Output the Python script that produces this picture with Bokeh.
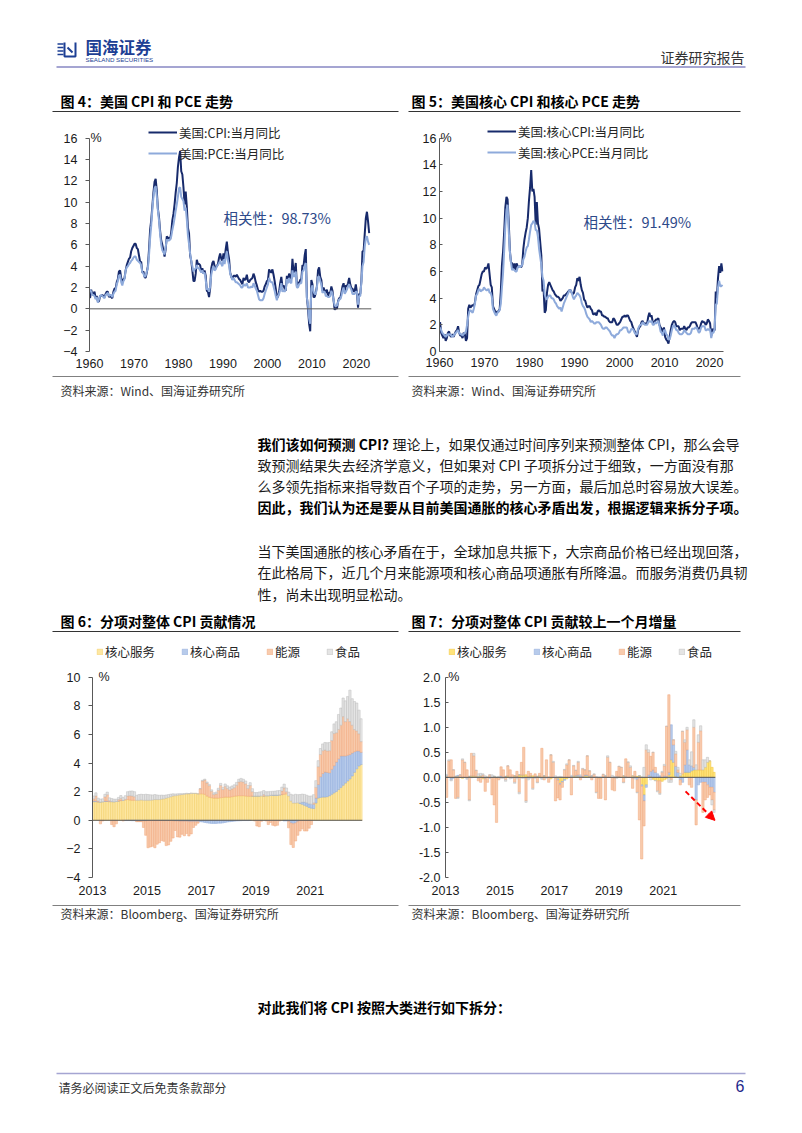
from bokeh.plotting import figure
from bokeh.layouts import column, row
from bokeh.models import (Range1d, LinearAxis, FixedTicker, Span, Label, Legend,
                          LegendItem, Arrow, NormalHead, NumeralTickFormatter)
from bokeh.core.properties import value
from bokeh.embed import file_html
from bokeh.resources import INLINE

# ---------------- data: chart 4 / 5 (quarterly, 1960Q1 .. 2022Q4) ----------------
q_start_year = 1960
cpi = [1.0, 1.8, 1.4, 1.4, 1.6, 1.0, 1.2, 0.7, 0.7, 1.2, 1.2, 1.3, 1.2, 1.1, 1.4, 1.6,
       1.6, 1.1, 1.2, 1.1, 1.0, 1.6, 1.9, 1.9, 2.5, 2.8, 3.5, 3.6, 2.9, 2.6, 2.7, 2.9,
       3.6, 4.1, 4.4, 4.7, 4.8, 5.4, 5.7, 5.9, 6.1, 6.1, 5.7, 5.6, 5.0, 4.4, 4.4, 3.4,
       3.5, 3.0, 2.9, 3.4, 4.0, 5.5, 7.4, 8.3, 9.6, 10.9, 11.9, 12.2, 11.1, 9.4, 8.6, 7.3,
       6.4, 6.0, 5.5, 4.9, 5.6, 6.8, 6.6, 6.7, 6.5, 7.2, 8.3, 8.9, 9.8, 10.9, 11.8, 13.3,
       14.2, 14.8, 12.9, 12.6, 11.4, 9.8, 11.0, 9.6, 7.6, 7.1, 5.0, 4.5, 3.6, 2.6, 2.6, 3.3,
       4.6, 4.2, 4.2, 4.1, 3.5, 3.8, 3.3, 3.6, 3.1, 1.7, 1.6, 1.1, 1.9, 3.8, 4.3, 4.5,
       4.0, 3.9, 4.0, 4.2, 4.8, 5.2, 4.7, 4.5, 5.2, 4.7, 5.6, 6.3, 5.3, 4.7, 3.4, 3.0,
       2.8, 3.1, 3.1, 3.0, 3.2, 3.0, 2.8, 2.7, 2.5, 2.3, 2.9, 2.7, 2.8, 3.2, 2.6, 2.5,
       2.7, 2.8, 2.9, 3.3, 3.0, 2.5, 2.2, 1.8, 1.6, 1.7, 1.6, 1.6, 1.7, 2.1, 2.3, 2.6,
       2.7, 3.7, 3.5, 3.4, 3.7, 3.2, 2.6, 1.9, 1.1, 1.1, 1.6, 2.4, 3.0, 2.1, 2.2, 1.9,
       1.7, 3.1, 2.7, 3.3, 3.0, 2.8, 4.7, 3.4, 3.6, 4.3, 2.1, 2.5, 2.4, 2.7, 2.8, 4.1,
       4.0, 5.0, 5.6, 1.1, 0.0, -1.4, -2.1, 2.7, 2.3, 1.1, 1.1, 1.5, 2.1, 3.6, 3.9, 3.0,
       2.7, 1.7, 2.0, 1.7, 1.5, 1.8, 1.2, 1.5, 1.5, 2.1, 1.7, 0.8, -0.1, 0.1, 0.0, 0.7,
       1.0, 1.0, 1.5, 2.1, 2.4, 1.6, 2.2, 2.1, 2.4, 2.9, 2.3, 1.9, 1.9, 1.6, 1.7, 2.3,
       1.5, 0.1, 1.4, 1.4, 2.6, 5.4, 5.4, 7.0, 8.5, 9.1, 8.2, 7.1]
pce = [1.8, 1.6, 1.3, 1.3, 1.2, 0.9, 1.1, 0.6, 0.9, 1.2, 1.3, 1.2, 1.1, 1.0, 1.3, 1.4,
       1.5, 1.2, 1.3, 1.3, 1.1, 1.4, 1.6, 1.7, 2.3, 2.6, 3.1, 3.2, 2.5, 2.2, 2.6, 2.8,
       3.6, 3.9, 4.0, 4.2, 4.3, 4.5, 4.6, 4.8, 4.9, 4.9, 4.6, 4.5, 4.4, 4.3, 4.1, 3.4,
       3.3, 3.0, 3.1, 3.5, 3.8, 5.0, 6.6, 7.8, 9.3, 10.5, 11.3, 11.5, 10.6, 9.2, 8.3, 7.0,
       6.0, 5.5, 5.3, 5.1, 5.8, 6.5, 6.4, 6.4, 6.5, 6.8, 7.4, 7.9, 8.5, 9.2, 9.8, 10.5,
       11.3, 11.4, 10.5, 10.3, 10.1, 9.2, 9.5, 8.4, 6.9, 6.1, 5.2, 4.5, 4.0, 3.5, 3.7, 3.8,
       4.1, 3.8, 3.8, 3.6, 3.4, 3.6, 3.3, 3.4, 2.7, 1.8, 1.9, 1.6, 2.1, 3.2, 3.7, 4.0,
       3.6, 3.7, 4.0, 4.1, 4.3, 4.5, 4.2, 4.0, 4.6, 4.2, 4.9, 5.4, 4.5, 4.1, 3.3, 3.0,
       2.7, 2.9, 2.7, 2.5, 2.5, 2.4, 2.3, 2.2, 2.0, 2.0, 2.3, 2.2, 2.2, 2.4, 2.0, 2.0,
       2.0, 2.1, 2.0, 2.4, 2.2, 1.9, 1.7, 1.3, 0.9, 0.8, 0.8, 0.8, 1.0, 1.4, 1.7, 2.0,
       2.3, 2.9, 2.6, 2.5, 2.5, 2.1, 1.7, 1.2, 0.8, 1.2, 1.4, 1.8, 2.4, 1.6, 1.8, 1.6,
       1.8, 2.8, 2.4, 2.9, 2.5, 2.4, 3.6, 3.0, 3.1, 3.5, 2.0, 2.0, 2.3, 2.4, 2.4, 3.5,
       3.6, 4.0, 4.3, 1.0, 0.4, -0.9, -1.4, 1.9, 2.2, 1.6, 1.4, 1.4, 2.0, 3.0, 3.0, 2.6,
       2.3, 1.5, 1.6, 1.6, 1.2, 1.2, 1.1, 1.1, 1.2, 1.7, 1.4, 0.8, 0.3, 0.3, 0.3, 0.6,
       0.9, 0.9, 1.2, 1.7, 2.0, 1.4, 1.6, 1.8, 2.1, 2.3, 2.0, 1.8, 1.4, 1.4, 1.4, 1.6,
       1.6, 0.4, 1.2, 1.2, 2.5, 4.0, 4.4, 5.8, 6.6, 6.8, 6.3, 6.0]
core_cpi = [2.2, 1.4, 1.2, 1.0, 1.3, 0.8, 1.0, 1.4, 1.5, 1.2, 1.1, 1.3, 1.1, 1.3, 1.5, 1.6,
            1.9, 1.4, 1.2, 1.2, 1.0, 1.4, 1.3, 0.8, 1.0, 3.2, 3.5, 3.3, 3.4, 3.5, 3.4, 3.7,
            4.3, 4.6, 4.9, 5.0, 5.4, 5.8, 6.0, 6.0, 6.3, 6.2, 6.3, 6.6, 5.8, 5.0, 4.8, 3.4,
            3.2, 3.0, 2.9, 3.0, 3.0, 3.2, 4.5, 6.5, 7.5, 9.0, 10.8, 11.6, 11.4, 9.8, 7.6, 6.7,
            6.6, 6.2, 6.6, 6.1, 6.6, 6.4, 6.3, 6.4, 6.3, 6.5, 7.7, 8.4, 8.9, 9.3, 10.0, 11.3,
            12.3, 13.6, 12.0, 12.2, 11.6, 9.5, 11.2, 9.6, 9.2, 8.2, 7.2, 4.5, 4.7, 2.9, 3.1, 4.4,
            5.0, 5.2, 5.0, 4.8, 4.6, 4.5, 4.3, 4.2, 4.1, 4.1, 4.0, 3.8, 3.9, 4.0, 4.2, 4.2,
            4.3, 4.4, 4.5, 4.6, 4.6, 4.4, 4.3, 4.4, 4.8, 5.0, 5.5, 5.3, 5.6, 5.0, 4.6, 4.4,
            3.9, 3.8, 3.5, 3.3, 3.4, 3.4, 3.2, 3.1, 2.8, 2.8, 2.9, 2.7, 3.0, 3.1, 3.0, 3.0,
            2.7, 2.7, 2.6, 2.6, 2.5, 2.5, 2.3, 2.2, 2.2, 2.2, 2.5, 2.4, 2.2, 2.0, 2.0, 2.1,
            2.2, 2.4, 2.6, 2.6, 2.7, 2.6, 2.7, 2.7, 2.5, 2.3, 2.2, 1.9, 1.7, 1.5, 1.3, 1.1,
            1.6, 1.8, 1.9, 2.2, 2.3, 2.1, 2.1, 2.1, 2.1, 2.6, 2.9, 2.6, 2.7, 2.2, 2.1, 2.3,
            2.4, 2.4, 2.5, 2.0, 1.8, 1.7, 1.4, 1.8, 1.1, 0.9, 0.8, 0.6, 1.1, 1.6, 2.0, 2.2,
            2.3, 2.2, 1.9, 1.9, 1.9, 1.6, 1.7, 1.7, 1.7, 1.9, 1.7, 1.6, 1.8, 1.8, 1.9, 2.1,
            2.2, 2.2, 2.2, 2.2, 2.0, 1.7, 1.7, 1.8, 2.1, 2.3, 2.2, 2.2, 2.0, 2.1, 2.4, 2.3,
            2.1, 1.2, 1.7, 1.6, 1.6, 4.5, 4.0, 5.5, 6.4, 5.9, 6.6, 6.0]
core_pce = [1.8, 1.6, 1.4, 1.3, 1.2, 1.1, 1.2, 1.3, 1.3, 1.3, 1.2, 1.1, 1.2, 1.3, 1.4, 1.5,
            1.6, 1.4, 1.3, 1.3, 1.2, 1.3, 1.4, 1.5, 2.0, 2.6, 3.0, 3.1, 3.0, 2.9, 3.2, 3.6,
            4.2, 4.3, 4.6, 4.7, 4.5, 4.6, 4.6, 4.8, 4.7, 4.6, 4.6, 4.7, 4.4, 4.4, 4.1, 3.2,
            3.0, 2.8, 2.7, 2.9, 3.0, 3.1, 3.6, 4.8, 5.9, 7.6, 9.4, 10.6, 11.0, 9.1, 7.5, 6.7,
            6.1, 6.2, 6.1, 6.0, 6.0, 6.3, 6.4, 6.3, 6.4, 6.5, 6.9, 7.1, 7.5, 7.8, 7.9, 8.4,
            9.0, 9.5, 9.6, 9.8, 9.7, 9.1, 9.1, 8.6, 7.7, 7.1, 6.5, 5.6, 5.3, 4.3, 4.0, 3.9,
            4.1, 4.2, 4.2, 4.0, 4.0, 3.9, 3.7, 3.6, 3.4, 3.3, 3.2, 3.3, 3.0, 3.3, 3.6, 3.8,
            4.0, 4.2, 4.4, 4.6, 4.6, 4.4, 4.1, 3.9, 4.1, 4.2, 4.4, 4.3, 4.2, 4.0, 3.6, 3.4,
            3.3, 3.1, 2.8, 2.6, 2.5, 2.4, 2.2, 2.3, 2.2, 2.1, 2.1, 2.2, 2.2, 2.2, 2.1, 2.0,
            1.8, 1.7, 1.7, 1.8, 1.8, 1.7, 1.6, 1.5, 1.3, 1.2, 1.2, 1.0, 1.2, 1.3, 1.3, 1.4,
            1.6, 1.6, 1.7, 1.8, 1.8, 1.8, 1.8, 1.5, 1.4, 1.5, 1.7, 1.7, 1.6, 1.4, 1.3, 1.3,
            1.7, 1.9, 2.0, 2.0, 2.2, 2.1, 2.0, 2.0, 2.0, 2.2, 2.3, 2.2, 2.3, 2.0, 2.0, 2.2,
            2.1, 2.2, 2.3, 1.9, 1.5, 1.4, 1.2, 1.6, 1.6, 1.3, 1.2, 0.9, 0.9, 1.2, 1.6, 1.9,
            2.0, 1.8, 1.6, 1.6, 1.4, 1.3, 1.3, 1.3, 1.4, 1.6, 1.5, 1.4, 1.3, 1.3, 1.3, 1.4,
            1.7, 1.7, 1.7, 1.8, 1.8, 1.6, 1.4, 1.5, 1.8, 1.9, 1.9, 1.9, 1.6, 1.6, 1.7, 1.6,
            1.7, 1.0, 1.4, 1.4, 1.7, 3.5, 3.6, 4.8, 5.3, 4.9, 4.9, 5.0]
line_x_ticks = [1960, 1970, 1980, 1990, 2000, 2010, 2020]
y4_ticks = [-4, -2, 0, 2, 4, 6, 8, 10, 12, 14, 16]
y5_ticks = [0, 2, 4, 6, 8, 10, 12, 14, 16]
corr4 = "相关性：98.73%"
corr5 = "相关性：91.49%"

# ---------------- data: chart 6 (monthly, 2013-01 .. 2022-11) ----------------
m_start_year = 2013
cats = ["核心服务", "核心商品", "能源", "食品"]
svc = [1.30, 1.30, 1.28, 1.28, 1.30, 1.32, 1.32, 1.30, 1.30, 1.30, 1.32, 1.35,
       1.38, 1.40, 1.42, 1.45, 1.42, 1.40, 1.40, 1.40, 1.40, 1.42, 1.40, 1.40,
       1.40, 1.40, 1.42, 1.45, 1.45, 1.45, 1.48, 1.50, 1.55, 1.60, 1.65, 1.70,
       1.72, 1.75, 1.78, 1.80, 1.82, 1.85, 1.85, 1.88, 1.88, 1.88, 1.85, 1.85,
       1.85, 1.82, 1.70, 1.62, 1.58, 1.55, 1.55, 1.55, 1.58, 1.60, 1.62, 1.62,
       1.62, 1.65, 1.68, 1.70, 1.72, 1.72, 1.72, 1.70, 1.68, 1.68, 1.70, 1.70,
       1.70, 1.70, 1.70, 1.70, 1.72, 1.72, 1.75, 1.75, 1.75, 1.75, 1.78, 1.80,
       1.82, 1.85, 1.70, 1.35, 1.20, 1.20, 1.22, 1.18, 1.12, 1.05, 0.98, 0.90,
       0.85, 0.82, 1.20, 1.55, 1.60, 1.62, 1.62, 1.65, 1.72, 1.82, 1.92, 2.02,
       2.15, 2.30, 2.45, 2.60, 2.75, 2.90, 3.10, 3.35, 3.60, 3.80, 3.90]
goods = [0.05, 0.05, 0.02, 0.00, 0.00, 0.02, 0.02, 0.02, 0.02, 0.00, 0.00, 0.00,
         0.00, 0.00, -0.02, -0.02, -0.02, -0.03, -0.03, -0.05, -0.05, -0.05, -0.05, -0.05,
         -0.02, -0.02, -0.02, -0.02, -0.02, -0.02, -0.02, -0.02, -0.02, -0.02, -0.02, -0.04,
         -0.06, -0.06, -0.08, -0.08, -0.08, -0.08, -0.10, -0.10, -0.10, -0.10, -0.10, -0.10,
         -0.12, -0.15, -0.18, -0.20, -0.22, -0.22, -0.22, -0.20, -0.20, -0.18, -0.15, -0.12,
         -0.10, -0.08, -0.06, -0.05, -0.04, -0.03, -0.02, -0.02, -0.02, -0.01, 0.00, 0.00,
         0.00, 0.00, -0.02, 0.00, 0.00, 0.00, 0.00, 0.02, 0.02, 0.02, 0.00, 0.00,
         -0.05, -0.05, -0.08, -0.20, -0.25, -0.20, -0.10, 0.05, 0.15, 0.22, 0.25, 0.25,
         0.28, 0.30, 0.35, 0.95, 1.45, 1.65, 1.75, 1.70, 1.60, 1.75, 1.90, 2.05,
         2.15, 2.20, 2.05, 1.90, 1.80, 1.70, 1.60, 1.45, 1.25, 1.05, 0.85]
energy = [0.15, 0.35, 0.05, -0.25, -0.05, 0.30, 0.45, 0.05, -0.30, -0.45, -0.25, 0.10,
          0.15, -0.05, 0.05, 0.25, 0.30, 0.30, 0.25, -0.05, -0.05, -0.05, -0.45, -1.00,
          -1.90, -1.85, -1.80, -1.90, -1.65, -1.55, -1.40, -1.45, -1.75, -1.70, -1.45, -1.20,
          -0.65, -1.10, -1.10, -0.90, -1.00, -0.85, -1.00, -0.85, -0.40, -0.25, -0.10, 0.35,
          0.90, 1.00, 0.90, 0.80, 0.45, 0.25, 0.30, 0.55, 0.85, 0.55, 0.75, 0.60,
          0.50, 0.55, 0.60, 0.75, 0.95, 1.00, 0.95, 0.85, 0.55, 0.75, 0.30, -0.05,
          -0.40, -0.45, -0.05, 0.10, -0.05, -0.30, -0.15, -0.35, -0.40, -0.35, -0.05, 0.25,
          0.45, 0.15, -0.45, -1.50, -1.65, -1.25, -0.95, -0.75, -0.60, -0.75, -0.75, -0.55,
          -0.30, 0.10, 0.75, 1.25, 1.55, 1.60, 1.55, 1.50, 1.55, 2.00, 2.25, 2.05,
          2.05, 2.15, 2.75, 2.40, 2.55, 2.30, 1.95, 1.55, 1.40, 1.20, 0.75]
food = [0.20, 0.22, 0.20, 0.20, 0.20, 0.18, 0.18, 0.20, 0.20, 0.18, 0.16, 0.15,
        0.20, 0.20, 0.25, 0.30, 0.32, 0.35, 0.35, 0.35, 0.40, 0.40, 0.40, 0.42,
        0.40, 0.38, 0.35, 0.35, 0.32, 0.30, 0.28, 0.25, 0.22, 0.20, 0.18, 0.15,
        0.12, 0.10, 0.08, 0.06, 0.05, 0.04, 0.02, 0.02, 0.00, 0.00, 0.00, 0.02,
        0.05, 0.06, 0.08, 0.09, 0.10, 0.12, 0.12, 0.14, 0.15, 0.15, 0.17, 0.19,
        0.20, 0.20, 0.20, 0.20, 0.20, 0.21, 0.20, 0.20, 0.20, 0.20, 0.21, 0.24,
        0.24, 0.28, 0.30, 0.28, 0.28, 0.28, 0.27, 0.26, 0.27, 0.30, 0.30, 0.27,
        0.26, 0.26, 0.27, 0.47, 0.57, 0.62, 0.57, 0.57, 0.56, 0.54, 0.52, 0.54,
        0.57, 0.57, 0.47, 0.42, 0.42, 0.47, 0.52, 0.57, 0.57, 0.62, 0.67, 0.77,
        1.05, 1.20, 1.30, 1.45, 1.55, 2.20, 1.85, 1.95, 1.95, 1.65, 1.60]

# ---------------- data: chart 7 (month-on-month change of contributions) ----------------
d_svc = [0.02, 0.00, -0.02, 0.00, 0.02, 0.02, 0.00, -0.02, 0.00, 0.00, 0.02, 0.03,
         0.03, 0.02, 0.02, 0.03, -0.03, -0.02, 0.00, 0.00, 0.00, 0.02, -0.02, 0.00,
         0.00, 0.00, 0.02, 0.03, 0.00, 0.00, 0.03, 0.02, 0.05, 0.05, 0.05, 0.05,
         0.02, 0.03, 0.03, 0.02, 0.02, 0.03, 0.00, 0.03, 0.00, 0.00, -0.03, 0.00,
         0.00, -0.03, -0.12, -0.08, -0.04, -0.03, 0.00, 0.00, 0.03, 0.02, 0.02, 0.00,
         0.00, 0.03, 0.03, 0.02, 0.02, 0.00, 0.00, -0.02, -0.02, 0.00, 0.02, 0.00,
         0.00, 0.00, 0.00, 0.00, 0.02, 0.00, 0.03, 0.00, 0.00, 0.00, 0.03, 0.02,
         0.02, 0.03, -0.15, -0.35, -0.15, 0.00, 0.02, -0.04, -0.06, -0.07, -0.07, -0.08,
         -0.05, -0.03, 0.05, 0.35, 0.30, 0.02, 0.00, 0.03, 0.07, 0.10, 0.10, 0.10,
         0.13, 0.15, 0.15, 0.15, 0.15, 0.15, 0.20, 0.30, 0.33, 0.20, 0.10]
d_goods = [0.02, 0.00, -0.03, -0.02, 0.00, 0.02, 0.00, 0.00, 0.00, -0.02, 0.00, 0.00,
           0.00, 0.00, -0.02, 0.00, 0.00, -0.01, 0.00, -0.02, 0.00, 0.00, 0.00, 0.00,
           0.03, 0.00, 0.00, 0.00, 0.00, 0.00, 0.00, 0.00, 0.00, 0.00, 0.00, -0.02,
           -0.02, 0.00, -0.02, 0.00, 0.00, 0.00, -0.02, 0.00, 0.00, 0.00, 0.00, 0.00,
           -0.02, -0.03, -0.03, -0.02, -0.02, 0.00, 0.00, 0.02, 0.00, 0.02, 0.03, 0.03,
           0.02, 0.02, 0.02, 0.01, 0.01, 0.01, 0.01, 0.00, 0.00, 0.01, 0.01, 0.00,
           0.00, 0.00, -0.02, 0.02, 0.00, 0.00, 0.00, 0.02, 0.00, 0.00, -0.02, 0.00,
           -0.05, 0.00, -0.03, -0.12, -0.05, 0.05, 0.10, 0.15, 0.10, 0.07, 0.03, 0.00,
           0.03, 0.02, 0.05, 0.70, 0.35, 0.20, 0.10, -0.05, -0.10, 0.15, 0.45, 0.15,
           0.10, 0.05, -0.45, -0.15, -0.10, -0.10, -0.10, -0.15, -0.20, -0.20, -0.30]
d_energy = [-0.40, 0.33, 0.35, 0.15, -0.42, -0.40, 0.05, 0.35, 0.30, 0.15, -0.45, 0.45,
            0.40, 0.12, -0.05, -0.10, 0.05, -0.25, -0.10, 0.05, -0.35, -0.55, -0.88, -0.05,
            0.18, 0.15, -0.05, 0.20, 0.15, 0.05, -0.10, 0.10, -0.30, 0.25, 0.55, -0.45,
            0.10, 0.05, -0.20, 0.05, -0.10, 0.05, 0.58, -0.05, 0.35, -0.10, 0.45, 0.30,
            -0.45, -0.35, -0.30, -0.10, 0.15, 0.25, 0.35, -0.35, 0.20, 0.10, 0.25, -0.05,
            0.15, 0.10, 0.38, 0.10, -0.05, 0.05, -0.30, -0.40, -0.40, 0.05, -0.45, 0.40,
            0.30, -0.25, -0.25, 0.10, 0.20, 0.20, -0.10, 0.35, 0.30, 0.20, -0.20, 0.10,
            -0.25, -0.85, -1.45, -0.50, 0.55, 0.45, 0.30, 0.35, 0.10, -0.20, -0.25, 0.10,
            0.20, 1.00, 1.55, -0.05, 0.10, 0.25, 0.05, -0.10, 0.85, 0.45, 0.40, -0.15,
            -0.20, 0.80, -0.50, 0.55, 0.78, -0.60, -0.35, -0.25, -0.15, -0.25, -0.35]
d_food = [0.02, 0.02, -0.02, 0.00, 0.00, -0.02, 0.00, 0.02, 0.00, -0.02, -0.02, -0.01,
          0.05, 0.00, 0.05, 0.05, 0.02, 0.03, 0.00, 0.00, 0.05, 0.00, 0.00, 0.02,
          -0.02, -0.02, -0.03, 0.00, -0.03, -0.02, -0.02, -0.03, -0.03, -0.02, -0.02, -0.03,
          -0.03, -0.02, -0.02, -0.02, -0.01, -0.01, -0.02, 0.00, -0.02, 0.00, 0.00, 0.02,
          0.03, 0.01, 0.02, 0.01, 0.01, 0.02, 0.00, 0.02, 0.01, 0.00, 0.02, 0.02,
          0.01, 0.00, 0.00, 0.00, 0.00, 0.01, -0.01, 0.00, 0.00, 0.00, 0.01, 0.03,
          0.00, 0.04, 0.02, -0.02, 0.00, 0.00, -0.01, -0.01, 0.01, 0.03, 0.00, -0.03,
          -0.01, 0.00, 0.01, 0.20, 0.10, 0.05, -0.05, 0.00, -0.01, -0.02, -0.02, 0.02,
          0.03, 0.00, -0.10, -0.05, 0.00, 0.05, 0.05, 0.05, 0.00, 0.05, 0.05, 0.10,
          0.28, 0.15, 0.10, 0.15, 0.10, 0.20, 0.15, 0.10, 0.00, -0.10, -0.05]
bar_x_ticks = [2013, 2015, 2017, 2019, 2021]
y6_ticks = [-4, -2, 0, 2, 4, 6, 8, 10]
y7_ticks = [-2.0, -1.5, -1.0, -0.5, 0.0, 0.5, 1.0, 1.5, 2.0]

# ---------------- page texts ----------------
title4 = "图 4：美国 CPI 和 PCE 走势"
title5 = "图 5：美国核心 CPI 和核心 PCE 走势"
title6 = "图 6：分项对整体 CPI 贡献情况"
title7 = "图 7：分项对整体 CPI 贡献较上一个月增量"
src1 = "资料来源：Wind、国海证券研究所"
src2 = "资料来源：Bloomberg、国海证券研究所"
para1_bold = "我们该如何预测 CPI?"
para1_rest = "理论上，如果仅通过时间序列来预测整体 CPI，那么会导"
para1_lines = ["致预测结果失去经济学意义，但如果对 CPI 子项拆分过于细致，一方面没有那",
               "么多领先指标来指导数百个子项的走势，另一方面，最后加总时容易放大误差。"]
para1_last = "因此，我们认为还是要从目前美国通胀的核心矛盾出发，根据逻辑来拆分子项。"
para2_lines = ["当下美国通胀的核心矛盾在于，全球加息共振下，大宗商品价格已经出现回落，",
               "在此格局下，近几个月来能源项和核心商品项通胀有所降温。而服务消费仍具韧",
               "性，尚未出现明显松动。"]
final_line = "对此我们将 CPI 按照大类进行如下拆分："
footer = "请务必阅读正文后免责条款部分"

# ---------------- styling ----------------
CJK = "Noto Sans CJK SC"
NUM = "Liberation Sans"
DARK = "#172a6b"
LIGHT = "#8eaadb"
AXC = "#595959"
TXT = "#1a1a1a"
LAV = "#a5a5d2"
COLS = [("#fde7a2", "#f2cd62"), ("#b7cbeb", "#8eaadb"), ("#f8cbad", "#f0a77a"), ("#e4e4e4", "#bcbcbc")]
COLS7 = [("#ffe47a", "#f0c53c"), ("#b7cbeb", "#8eaadb"), ("#f8cbad", "#f0a77a"), ("#e4e4e4", "#bcbcbc")]
PAGE_W = 802


def text_fig(h):
    p = figure(width=PAGE_W, height=h, x_range=Range1d(0, PAGE_W), y_range=Range1d(h, 0),
               x_axis_type=None, y_axis_type=None, output_backend="svg",
               toolbar_location=None, tools="", min_border=0)
    p.outline_line_color = None
    return p


def put(p, top, x, y, s, size, color=TXT, bold=False, align="left", font=CJK):
    p.text(x=[x], y=[y - top], text=[s], text_font=value(font),
           text_font_size=f"{size}px", text_font_style="bold" if bold else "normal",
           text_color=color, text_align=align, text_baseline="middle")


def hline(p, top, x0, x1, y, color, w):
    p.line(x=[x0, x1], y=[y - top, y - top], line_color=color, line_width=w)


def chart_fig(h, xr, yr, bl, br, bt, bb):
    p = figure(width=401, height=h, x_range=Range1d(*xr), y_range=Range1d(*yr),
               x_axis_type=None, y_axis_type=None, output_backend="svg",
               toolbar_location=None, tools="", min_border_left=bl, min_border_right=br,
               min_border_top=bt, min_border_bottom=bb)
    p.outline_line_color = None
    return p


def add_axes(p, xticks, yticks, ybounds, ytick_out, ytick_in, ystand, xstand, xline, yfmt=None):
    ya = LinearAxis(ticker=FixedTicker(ticks=yticks), bounds=ybounds)
    ya.major_label_text_font = NUM
    ya.major_label_text_font_size = "12.5px"
    ya.major_label_text_color = TXT
    ya.axis_line_color = AXC
    ya.major_tick_line_color = AXC
    ya.major_tick_out = ytick_out
    ya.major_tick_in = ytick_in
    ya.major_label_standoff = ystand
    if yfmt:
        ya.formatter = NumeralTickFormatter(format=yfmt)
    p.add_layout(ya, "left")
    xa = LinearAxis(ticker=FixedTicker(ticks=xticks))
    xa.major_label_text_font = NUM
    xa.major_label_text_font_size = "12.5px"
    xa.major_label_text_color = TXT
    xa.axis_line_color = AXC if xline else None
    xa.major_tick_line_color = None
    xa.major_tick_out = 0
    xa.major_tick_in = 0
    xa.major_label_standoff = xstand
    p.add_layout(xa, "below")


def stack(series):
    n = len(series[0])
    pos = [0.0] * n
    neg = [0.0] * n
    out = []
    for s in series:
        b, t = [], []
        for i, v in enumerate(s):
            if v >= 0:
                b.append(pos[i]); t.append(pos[i] + v); pos[i] += v
            else:
                b.append(neg[i]); t.append(neg[i] + v); neg[i] += v
        out.append((b, t))
    return out


# ---------------- header (page y 0..118) ----------------
header = text_fig(118)
HT = 0
for yy in [43.5, 47, 50.5, 54]:
    hline(header, HT, 57, 63, yy, "#1d3f94", 1.6)
header.line(x=[64, 64, 75, 75], y=[42, 56, 56, 42], line_color="#1d3f94", line_width=2)
header.line(x=[67, 72], y=[47, 52], line_color="#1d3f94", line_width=2)
put(header, HT, 85, 46, "国海证券", 16.5, "#1d3f94", bold=True)
put(header, HT, 85, 58.5, "SEALAND SECURITIES", 6.2, "#1d3f94", font=NUM)
put(header, HT, 744, 56.5, "证券研究报告", 14, "#333333", align="right")
hline(header, HT, 56, 745, 66.5, LAV, 2.2)
put(header, HT, 60, 100.5, title4, 14, "#000000", bold=True)
put(header, HT, 411, 100.5, title5, 14, "#000000", bold=True)
hline(header, HT, 52, 398, 111, "#333333", 1.2)
hline(header, HT, 408, 740, 111, "#333333", 1.2)

# ---------------- chart 4 (page x 0..401, y 118..372) ----------------
xq = [q_start_year + i / 4 + 0.125 for i in range(len(cpi))]
f4 = chart_fig(254, (1960, 2023.4), (-4, 17.66), 89, 30, 2, 21)
add_axes(f4, line_x_ticks, y4_ticks, (-4, 16), 4, 0, 8, 7, False)
f4.add_layout(Span(location=0, dimension="width", line_color=AXC, line_width=1))
r_cpi = f4.line(xq, cpi, line_color=DARK, line_width=2)
r_pce = f4.line(xq, pce, line_color=LIGHT, line_width=2)
leg4 = Legend(items=[LegendItem(label="美国:CPI:当月同比", renderers=[r_cpi]),
                     LegendItem(label="美国:PCE:当月同比", renderers=[r_pce])],
              location=(59, 188), orientation="vertical", glyph_width=29, glyph_height=20,
              label_height=20, spacing=1, padding=0, margin=0, label_standoff=2,
              label_text_font=CJK, label_text_font_size="12.5px", label_text_color="#262626",
              background_fill_alpha=0, border_line_alpha=0)
f4.add_layout(leg4)
f4.add_layout(Label(x=1960.2, y=16, text="%", text_font=NUM, text_font_size="12.5px",
                    text_color=TXT, text_baseline="middle"))
f4.add_layout(Label(x=1990.1, y=8.6, text=corr4, text_font=CJK, text_font_size="14.5px",
                    text_color="#2e4a8a", text_baseline="middle"))

# ---------------- chart 5 (page x 401..802) ----------------
f5 = chart_fig(254, (1960, 2023.1), (0, 17.32), 38, 79, 2, 20)
add_axes(f5, line_x_ticks, y5_ticks, (0, 16), 0, 3, 3, 6, True)
r_ccpi = f5.line(xq, core_cpi, line_color=DARK, line_width=2)
r_cpce = f5.line(xq, core_pce, line_color=LIGHT, line_width=2)
leg5 = Legend(items=[LegendItem(label="美国:核心CPI:当月同比", renderers=[r_ccpi]),
                     LegendItem(label="美国:核心PCE:当月同比", renderers=[r_cpce])],
              location=(48, 189), orientation="vertical", glyph_width=29, glyph_height=20,
              label_height=20, spacing=1, padding=0, margin=0, label_standoff=2,
              label_text_font=CJK, label_text_font_size="12.5px", label_text_color="#262626",
              background_fill_alpha=0, border_line_alpha=0)
f5.add_layout(leg5)
f5.add_layout(Label(x=1960.2, y=16, text="%", text_font=NUM, text_font_size="12.5px",
                    text_color=TXT, text_baseline="middle"))
f5.add_layout(Label(x=1992.0, y=9.72, text=corr5, text_font=CJK, text_font_size="14.5px",
                    text_color="#2e4a8a", text_baseline="middle"))

# ---------------- middle text block (page y 372..640) ----------------
mid = text_fig(268)
MT = 372
hline(mid, MT, 52, 398, 376, "#808080", 1)
hline(mid, MT, 408, 740, 376, "#808080", 1)
put(mid, MT, 60, 390, src1, 12, "#333333")
put(mid, MT, 411, 390, src1, 12, "#333333")
put(mid, MT, 257, 443, para1_bold, 14, "#000000", bold=True)
put(mid, MT, 392, 443, para1_rest, 14, TXT)
put(mid, MT, 257, 464, para1_lines[0], 14, TXT)
put(mid, MT, 257, 485.5, para1_lines[1], 14, TXT)
put(mid, MT, 257, 506, para1_last, 14, "#000000", bold=True)
for k, ln in enumerate(para2_lines):
    put(mid, MT, 257, 550 + k * 21.5, ln, 14, TXT)
put(mid, MT, 60, 620.5, title6, 14, "#000000", bold=True)
put(mid, MT, 411, 620.5, title7, 14, "#000000", bold=True)
hline(mid, MT, 52, 398, 631, "#333333", 1.2)
hline(mid, MT, 408, 740, 631, "#333333", 1.2)

# ---------------- chart 6 (page y 640..900) ----------------
xm = [m_start_year + (i + 0.5) / 12 for i in range(len(svc))]
f6 = chart_fig(260, (2013, 2022.92), (-4, 12.43), 92, 39, 2, 23)
add_axes(f6, bar_x_ticks, y6_ticks, (-4, 10), 4, 0, 8, 8, False)
rs6 = []
for (b, t), (fc, lc) in zip(stack([svc, goods, energy, food]), COLS):
    rs6.append(f6.vbar(x=xm, width=1 / 12, bottom=b, top=t, fill_color=fc, line_color=lc, line_width=0.5))
f6.add_layout(Span(location=0, dimension="width", line_color=AXC, line_width=1))
leg6 = Legend(items=[LegendItem(label=c, renderers=[r]) for c, r in zip(cats, rs6)],
              location=(4, 216), orientation="horizontal", glyph_width=7, glyph_height=7,
              label_height=7, spacing=26, padding=0, margin=0, label_standoff=2,
              label_text_font=CJK, label_text_font_size="12.5px", label_text_color="#262626",
              background_fill_alpha=0, border_line_alpha=0)
f6.add_layout(leg6)
f6.add_layout(Label(x=2013.22, y=10, text="%", text_font=NUM, text_font_size="12.5px",
                    text_color=TXT, text_baseline="middle"))

# ---------------- chart 7 ----------------
f7 = chart_fig(260, (2013, 2022.92), (-2, 2.693), 44, 87, 2, 23)
add_axes(f7, bar_x_ticks, y7_ticks, (-2, 2), 0, 3, 5, 8, False, yfmt="0.0")
rs7 = []
for (b, t), (fc, lc) in zip(stack([d_svc, d_goods, d_energy, d_food]), COLS7):
    rs7.append(f7.vbar(x=xm, width=1 / 12, bottom=b, top=t, fill_color=fc, line_color=lc, line_width=0.5))
f7.add_layout(Span(location=0, dimension="width", line_color=AXC, line_width=1))
leg7 = Legend(items=[LegendItem(label=c, renderers=[r]) for c, r in zip(cats, rs7)],
              location=(3, 216), orientation="horizontal", glyph_width=7, glyph_height=7,
              label_height=7, spacing=26, padding=0, margin=0, label_standoff=2,
              label_text_font=CJK, label_text_font_size="12.5px", label_text_color="#262626",
              background_fill_alpha=0, border_line_alpha=0)
f7.add_layout(leg7)
f7.add_layout(Label(x=2013.1, y=2.0, text="%", text_font=NUM, text_font_size="12.5px",
                    text_color=TXT, text_baseline="middle"))
f7.add_layout(Arrow(end=NormalHead(size=9, fill_color="#ff0000", line_color="#ff0000"),
                    x_start=2021.82, y_start=-0.28, x_end=2022.9, y_end=-0.86,
                    line_color="#ff0000", line_width=2, line_dash="5 3"))

# ---------------- bottom text block (page y 900..1133) ----------------
bottom = text_fig(233)
BT = 900
hline(bottom, BT, 52, 398, 905, "#808080", 1)
hline(bottom, BT, 408, 740, 905, "#808080", 1)
put(bottom, BT, 60, 913, src2, 12, "#333333")
put(bottom, BT, 411, 913, src2, 12, "#333333")
put(bottom, BT, 257, 1006.5, final_line, 14, "#000000", bold=True)
hline(bottom, BT, 56, 745, 1073, LAV, 1.6)
put(bottom, BT, 58, 1087, footer, 12, "#333333")
put(bottom, BT, 744, 1085, "6", 16, "#1f2a8c", align="right", font=NUM)

layout = column(header, row(f4, f5), mid, row(f6, f7), bottom)
open("out.html", "w").write(file_html(layout, INLINE, title="CPI"))
